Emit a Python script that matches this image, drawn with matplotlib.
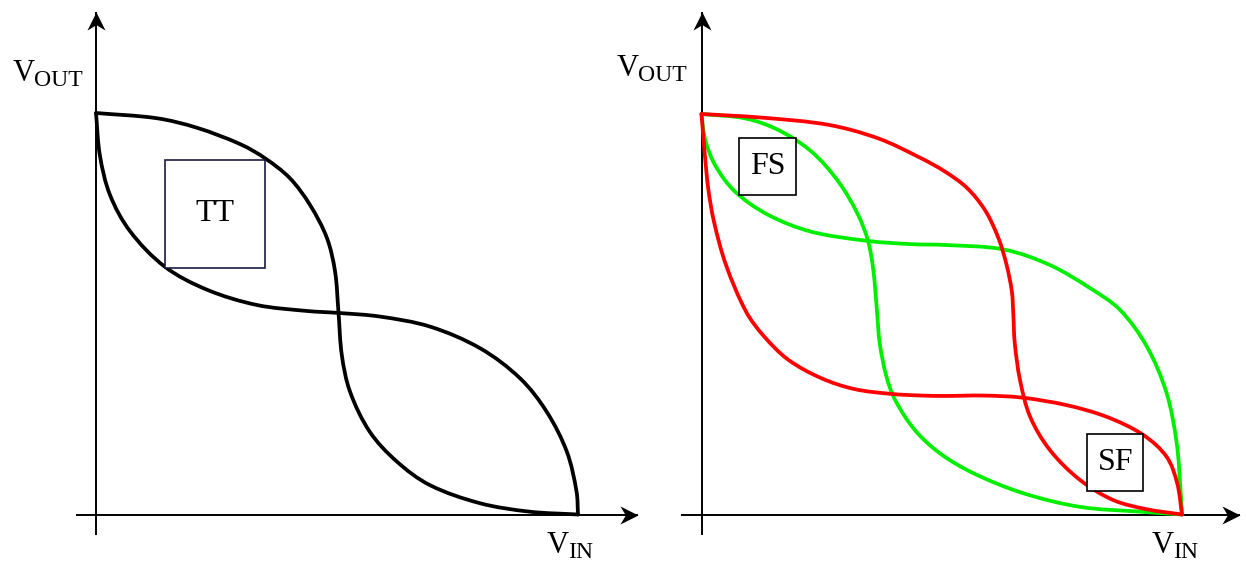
import matplotlib
matplotlib.use("Agg")
import matplotlib.pyplot as plt
import numpy as np
from matplotlib.path import Path
from matplotlib.patches import Rectangle, PathPatch

plt.rcParams["font.family"] = ["Liberation Serif", "DejaVu Serif"]

# Typical corner: inverter VTC (vin -> vout) and its mirror for the butterfly
tt_a_vin = [0, 0.126, 0.210, 0.300, 0.351, 0.402, 0.444, 0.479, 0.496, 0.503,
            0.510, 0.527, 0.568, 0.624, 0.693, 0.797, 0.900, 1.0]
tt_a_vout = [1.0, 0.987, 0.963, 0.922, 0.887, 0.838, 0.771, 0.689, 0.605, 0.505,
             0.397, 0.306, 0.206, 0.132, 0.073, 0.028, 0.007, 0]
tt_b_vin = [0, 0.008, 0.029, 0.071, 0.143, 0.230, 0.333, 0.437, 0.503, 0.589,
            0.693, 0.797, 0.880, 0.935, 0.977, 0.997, 1.0]
tt_b_vout = [1.0, 0.895, 0.796, 0.705, 0.617, 0.560, 0.522, 0.507, 0.502, 0.493,
             0.468, 0.414, 0.339, 0.256, 0.156, 0.057, 0]

# Skewed corners
red_a_vin = [0, 0.125, 0.264, 0.368, 0.458, 0.507, 0.552, 0.590, 0.618, 0.635,
             0.646, 0.649, 0.652, 0.663, 0.684, 0.725, 0.788, 0.857, 0.927, 1.0]
red_a_vout = [1.0, 0.991, 0.973, 0.939, 0.889, 0.856, 0.816, 0.760, 0.690, 0.623,
              0.556, 0.498, 0.427, 0.335, 0.244, 0.161, 0.086, 0.036, 0.013, 0]
red_b_vin = [0, 0.007, 0.014, 0.026, 0.051, 0.093, 0.130, 0.181, 0.250, 0.319,
             0.396, 0.458, 0.507, 0.586, 0.666, 0.760, 0.843, 0.919, 0.968, 0.990, 1.0]
red_b_vout = [1.0, 0.898, 0.814, 0.731, 0.623, 0.506, 0.445, 0.386, 0.340, 0.313,
              0.301, 0.297, 0.296, 0.297, 0.292, 0.273, 0.244, 0.199, 0.144, 0.078, 0]
green_a_vin = [0, 0.091, 0.160, 0.229, 0.285, 0.326, 0.347, 0.358, 0.365, 0.371,
               0.385, 0.403, 0.444, 0.496, 0.566, 0.670, 0.788, 0.913, 1.0]
green_a_vout = [1.0, 0.989, 0.960, 0.906, 0.831, 0.748, 0.681, 0.606, 0.511, 0.427,
                0.344, 0.286, 0.211, 0.153, 0.103, 0.053, 0.019, 0.007, 0]
green_b_vin = [0, 0.007, 0.028, 0.070, 0.139, 0.229, 0.347, 0.437, 0.507, 0.628,
               0.725, 0.809, 0.871, 0.927, 0.968, 0.989, 0.997, 1.0]
green_b_vout = [1.0, 0.939, 0.873, 0.806, 0.748, 0.706, 0.683, 0.675, 0.673, 0.662,
                0.623, 0.565, 0.511, 0.419, 0.303, 0.178, 0.061, 0]

# corner label boxes: (label, vin0, vout0, vin1, vout1)
tt_box = ("TT", 0.143, 0.613, 0.351, 0.884)
fs_box = ("FS", 0.079, 0.798, 0.196, 0.939)
sf_box = ("SF", 0.803, 0.059, 0.919, 0.200)

W, H = 1246, 563

# stealth-style arrow heads (tip at the marker origin)
HEAD_RIGHT = Path([(0, 0), (-1, 0.5), (-0.7, 0), (-1, -0.5), (0, 0)],
                  [Path.MOVETO, Path.LINETO, Path.LINETO, Path.LINETO, Path.CLOSEPOLY])
HEAD_UP = Path([(0, 0), (0.5, -1), (0, -0.7), (-0.5, -1), (0, 0)],
               [Path.MOVETO, Path.LINETO, Path.LINETO, Path.LINETO, Path.CLOSEPOLY])


def smooth_path(xs, ys):
    """Cubic Bezier path through every point; handles scaled to segment length."""
    p = np.column_stack([xs, ys]).astype(float)
    n = len(p)
    d = np.zeros_like(p)
    d[1:-1] = p[2:] - p[:-2]
    d[0] = p[1] - p[0]
    d[-1] = p[-1] - p[-2]
    d /= np.linalg.norm(d, axis=1)[:, None]
    verts = [p[0]]
    codes = [Path.MOVETO]
    for i in range(n - 1):
        seg = np.linalg.norm(p[i + 1] - p[i]) / 3
        verts += [p[i] + d[i] * seg, p[i + 1] - d[i + 1] * seg, p[i + 1]]
        codes += [Path.CURVE4] * 3
    return Path(verts, codes)


def draw_curve(ax, xs, ys, color, z):
    ax.add_patch(PathPatch(smooth_path(xs, ys), fill=False, edgecolor=color,
                           lw=2.7, joinstyle="round", capstyle="round", zorder=z))


def make_panel(fig, left_px, right_px, origin, unit):
    """Axes whose data coords are volts/VDD, placed by pixel origin and scale."""
    ox, oy = origin
    ux, uy = unit
    ax = fig.add_axes([left_px / W, 0, (right_px - left_px) / W, 1])
    ax.set_xlim((left_px - ox) / ux, (right_px - ox) / ux)
    ax.set_ylim((oy - H) / uy, oy / uy)
    ax.axis("off")
    return ax


def draw_axes_arrows(ax, x0, x1, y0, y1):
    ax.plot([x0, x1], [0, 0], color="black", lw=1.4, clip_on=False, solid_capstyle="butt")
    ax.plot([0, 0], [y0, y1], color="black", lw=1.4, clip_on=False, solid_capstyle="butt")
    ax.plot([x1], [0], marker=HEAD_RIGHT, ms=26, color="black", mew=0, clip_on=False)
    ax.plot([0], [y1], marker=HEAD_UP, ms=26, color="black", mew=0, clip_on=False)


def draw_box(ax, box, edge):
    label, a0, b0, a1, b1 = box
    ax.add_patch(Rectangle((a0, b0), a1 - a0, b1 - b0, fill=True, facecolor="white",
                           edgecolor=edge, lw=1.2, zorder=5))
    ax.text((a0 + a1) / 2, (b0 + b1) / 2, label, ha="center", va="center",
            fontsize=23, zorder=6)


def axis_label(ax, x, y, sub):
    ax.text(x, y, "V", ha="left", va="baseline", fontsize=22, clip_on=False)
    ax.annotate(sub, xy=(x, y), xytext=(15.5, -3.5), textcoords="offset points",
                ha="left", va="baseline", fontsize=17, annotation_clip=False)


fig = plt.figure(figsize=(W / 100, H / 100), dpi=100)

# left: typical corner
ax1 = make_panel(fig, 0, 650, (96, 514.5), (482, 401.5))
draw_axes_arrows(ax1, -0.042, 1.124, -0.051, 1.252)
draw_curve(ax1, tt_a_vin, tt_a_vout, "black", 3)
draw_curve(ax1, tt_b_vin, tt_b_vout, "black", 3)
draw_box(ax1, tt_box, "#1a1a40")
axis_label(ax1, -0.174, 1.080, "OUT")
axis_label(ax1, 0.934, -0.096, "IN")

# right: skewed corners
ax2 = make_panel(fig, 650, W, (701.5, 514.5), (480.5, 400.5))
draw_axes_arrows(ax2, -0.043, 1.121, -0.051, 1.255)
draw_curve(ax2, green_a_vin, green_a_vout, "#00ee00", 3)
draw_curve(ax2, green_b_vin, green_b_vout, "#00ee00", 3)
draw_curve(ax2, red_a_vin, red_a_vout, "#ff0000", 4)
draw_curve(ax2, red_b_vin, red_b_vout, "#ff0000", 4)
draw_box(ax2, fs_box, "black")
draw_box(ax2, sf_box, "black")
axis_label(ax2, -0.176, 1.095, "OUT")
axis_label(ax2, 0.9376, -0.096, "IN")

fig.savefig("out.png", dpi=100, facecolor="white")
